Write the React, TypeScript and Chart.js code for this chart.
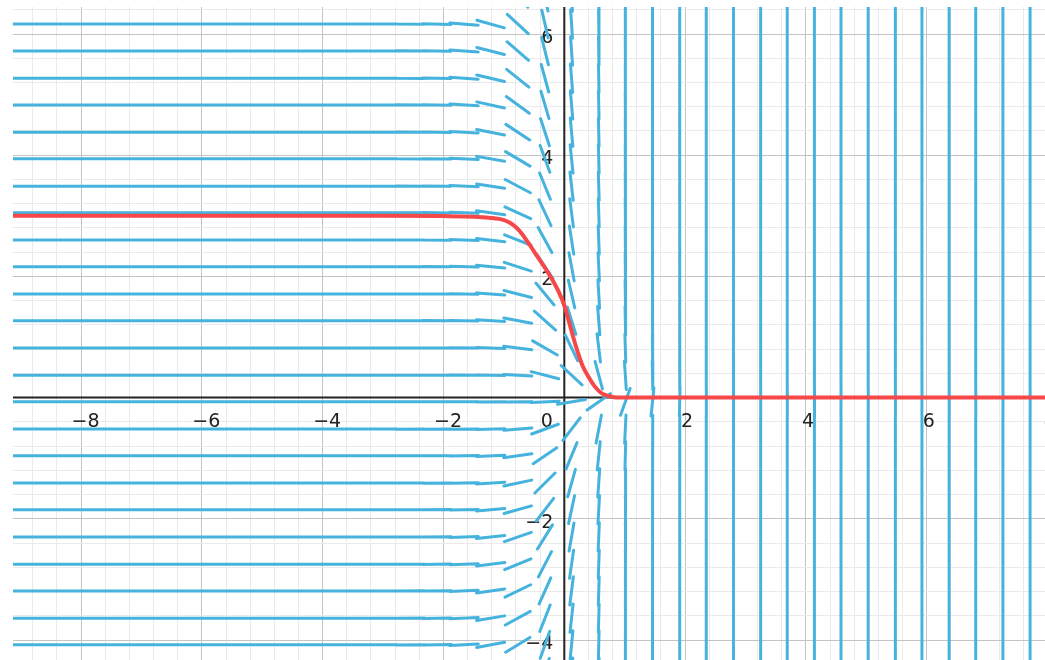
import React, { useEffect, useRef } from "react";
import { Chart, registerables } from "chart.js";

Chart.register(...registerables);

// ---------- data ----------
// slope-field column centres (x) and row centres (y)
const fieldColumnsX = [
  -9.25, -8.8, -8.35, -7.91, -7.46, -7.02, -6.57, -6.12, -5.68, -5.23, -4.78, -4.34,
  -3.89, -3.45, -3.0, -2.55, -2.11, -1.66, -1.22, -0.77, -0.32, 0.12, 0.57, 1.01,
  1.46, 1.91, 2.35, 2.8, 3.25, 3.69, 4.14, 4.58, 5.03, 5.48, 5.92, 6.37, 6.81, 7.26,
  7.71, 8.15,
];
const fieldRowsY = [
  6.61, 6.165, 5.72, 5.27, 4.83, 4.38, 3.94, 3.49, 3.05, 2.6, 2.16, 1.71, 1.27, 0.82,
  0.37, -0.07, -0.52, -0.96, -1.41, -1.85, -2.3, -2.75, -3.19, -3.64, -4.08, -4.53,
];
// per column: slope of the field = -gain * y (gain)
const columnSlopeGain = [
  0, 0, 0, 0, 0, 0, 0, 0, 0, 0, 0, 0,
  0, 0, 0, 0.0015, 0.004, 0.013, 0.045, 0.15, 0.7, 2.5, 10, 40,
  140, 600, 3000, 3000, 3000, 3000, 3000, 3000, 3000, 3000, 3000, 3000, 3000, 3000,
  3000, 3000,
];

// red solution curve
const curveX = [
  -9.3, -3.0, -2.0, -1.5, -1.25, -1.0, -0.9, -0.8, -0.7, -0.6, -0.5, -0.4, -0.3, -0.2,
  -0.1, 0.0, 0.1, 0.2, 0.3, 0.4, 0.5, 0.6, 0.7, 0.8, 0.9, 8.1,
];
const curveY = [
  3.0, 3.0, 2.995, 2.985, 2.968, 2.93, 2.885, 2.81, 2.7, 2.56, 2.41, 2.26, 2.11, 1.95,
  1.76, 1.52, 1.17, 0.82, 0.53, 0.345, 0.19, 0.085, 0.035, 0.01, 0, 0,
];

// axis tick labels
const xTickValues = [-8, -6, -4, -2, 2, 4, 6, 8];
const yTickValues = [-4, -2, 2, 4, 6];
const originLabel = "0";

// ---------- view / style ----------
const X_MIN = -9.126;
const X_MAX = 7.957;
const Y_MIN = -4.33;
const Y_MAX = 6.446;
const MINOR_STEP = 0.4;
const SEG_LEN = 0.47;
const FIELD_COLOR = "#45b3dd";
const CURVE_COLOR = "rgb(246,72,72)";
const MAJOR_GRID = "rgb(196,196,196)";
const MINOR_GRID = "rgb(234,234,234)";
const AXIS_COLOR = "#222";
const LABEL_FONT = '19px "DejaVu Sans", sans-serif';

const fmt = (v: number) => (v < 0 ? "\u2212" + Math.abs(v) : String(v));

function gridValues(min: number, max: number) {
  const out: { value: number }[] = [];
  const k0 = Math.ceil(min / MINOR_STEP);
  const k1 = Math.floor(max / MINOR_STEP);
  for (let k = k0; k <= k1; k++) out.push({ value: Math.round(k * MINOR_STEP * 1000) / 1000 });
  return out;
}

const isMajor = (v: number) => Math.abs(v / 2 - Math.round(v / 2)) < 1e-6;

const axesPlugin = {
  id: "axesAndLabels",
  beforeDatasetsDraw(chart: any) {
    const { ctx, chartArea } = chart;
    const xs = chart.scales.x;
    const ys = chart.scales.y;
    const x0 = xs.getPixelForValue(0);
    const y0 = ys.getPixelForValue(0);
    ctx.save();
    ctx.beginPath();
    ctx.rect(chartArea.left, chartArea.top, chartArea.right - chartArea.left, chartArea.bottom - chartArea.top);
    ctx.clip();
    ctx.strokeStyle = AXIS_COLOR;
    ctx.lineWidth = 2;
    ctx.beginPath();
    ctx.moveTo(chartArea.left, y0);
    ctx.lineTo(chartArea.right, y0);
    ctx.moveTo(x0, chartArea.top);
    ctx.lineTo(x0, chartArea.bottom);
    ctx.stroke();
    ctx.restore();

    ctx.save();
    ctx.font = LABEL_FONT;
    ctx.fillStyle = AXIS_COLOR;
    ctx.textBaseline = "alphabetic";
    ctx.textAlign = "center";
    xTickValues.forEach((v) => {
      const px = xs.getPixelForValue(v) + (v < 0 ? 4.5 : 2);
      ctx.fillText(fmt(v), px, y0 + 29.4);
    });
    ctx.textAlign = "right";
    yTickValues.forEach((v) => {
      ctx.fillText(fmt(v), x0 - 11, ys.getPixelForValue(v) + 9);
    });
    ctx.fillText(originLabel, x0 - 11.5, y0 + 29.4);
    ctx.restore();
  },
};

export default function App() {
  const canvasRef = useRef<HTMLCanvasElement | null>(null);

  useEffect(() => {
    if (!canvasRef.current) return;

    const segments: { x: number; y: number | null }[] = [];
    fieldColumnsX.forEach((cx, j) => {
      const g = columnSlopeGain[j];
      fieldRowsY.forEach((cy) => {
        const s = -g * cy;
        const n = Math.sqrt(1 + s * s);
        const dx = SEG_LEN / 2 / n;
        const dy = ((SEG_LEN / 2) * s) / n;
        segments.push({ x: cx - dx, y: cy - dy });
        segments.push({ x: cx + dx, y: cy + dy });
        segments.push({ x: cx + dx, y: null });
      });
    });

    const curve = curveX.map((x, i) => ({ x, y: curveY[i] }));

    const chart = new Chart(canvasRef.current, {
      type: "line",
      data: {
        datasets: [
          {
            label: "solution",
            data: curve,
            borderColor: CURVE_COLOR,
            borderWidth: 4,
            pointRadius: 0,
            cubicInterpolationMode: "monotone",
            order: 0,
          } as any,
          {
            label: "slope field",
            data: segments,
            borderColor: FIELD_COLOR,
            borderWidth: 3,
            borderCapStyle: "round",
            pointRadius: 0,
            spanGaps: false,
            order: 1,
          } as any,
        ],
      },
      options: {
        animation: false,
        responsive: true,
        maintainAspectRatio: false,
        layout: { padding: { left: 13, top: 7, right: 0, bottom: 0 } },
        plugins: { legend: { display: false }, tooltip: { enabled: false } },
        events: [],
        scales: {
          x: {
            type: "linear",
            min: X_MIN,
            max: X_MAX,
            afterBuildTicks: (s: any) => {
              s.ticks = gridValues(X_MIN, X_MAX);
            },
            ticks: { display: false },
            grid: {
              drawTicks: false,
              lineWidth: 1,
              color: (c: any) => (c.tick && isMajor(c.tick.value) ? MAJOR_GRID : MINOR_GRID),
            },
            border: { display: false },
          },
          y: {
            type: "linear",
            min: Y_MIN,
            max: Y_MAX,
            afterBuildTicks: (s: any) => {
              s.ticks = gridValues(Y_MIN, Y_MAX);
            },
            ticks: { display: false },
            grid: {
              drawTicks: false,
              lineWidth: 1,
              color: (c: any) => (c.tick && isMajor(c.tick.value) ? MAJOR_GRID : MINOR_GRID),
            },
            border: { display: false },
          },
        },
      } as any,
      plugins: [axesPlugin],
    });

    return () => chart.destroy();
  }, []);

  return (
    <div style={{ position: "absolute", left: 0, top: 0, width: 1045, height: 660, background: "#fff" }}>
      <canvas ref={canvasRef} />
    </div>
  );
}
